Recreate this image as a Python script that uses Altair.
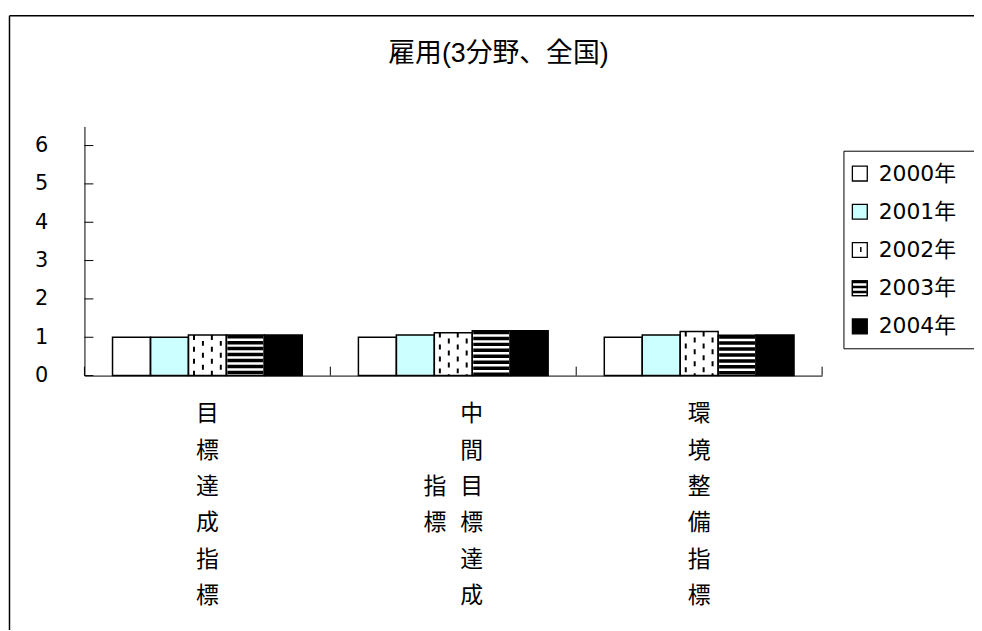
import altair as alt
import pandas as pd

# ---- data ----
title_text = "雇用(3分野、全国)"
categories = ["目標達成指標", "中間目標達成指標", "環境整備指標"]
years = ["2000年", "2001年", "2002年", "2003年", "2004年"]
v2000 = [1.00, 1.00, 1.00]
v2001 = [1.00, 1.06, 1.06]
v2002 = [1.06, 1.12, 1.15]
v2003 = [1.06, 1.17, 1.05]
v2004 = [1.06, 1.17, 1.06]
y_ticks = [0, 1, 2, 3, 4, 5, 6]
fill_colors = ["#FFFFFF", "#CCFFFF", "#FFFFFF", "#FFFFFF", "#000000"]

series = [v2000, v2001, v2002, v2003, v2004]
rows = []
for i, c in enumerate(categories):
    for j, y in enumerate(years):
        rows.append({"cat": c, "year": y, "value": series[j][i]})
df = pd.DataFrame(rows)

# ---- layout ----
W, H = 743, 251
PO = 0.74
band = W / len(categories)
step = band / (len(years) + 2 * PO)
JP = "Noto Sans CJK JP"
NUMF = "DejaVu Sans, Noto Sans CJK JP"
LH = 36.6

xscale = alt.Scale(domain=categories, paddingInner=0, paddingOuter=0)
xoscale = alt.Scale(domain=years, paddingInner=0, paddingOuter=PO)
yscale = alt.Scale(domain=[0, 6.5], nice=False, zero=True)

X = alt.X("cat:N", scale=xscale, sort=categories,
          axis=alt.Axis(labels=False, ticks=False, title=None, grid=False,
                        domainColor="black", domainWidth=1))
Y = alt.Y("value:Q", scale=yscale,
          axis=alt.Axis(values=y_ticks, ticks=False, title=None, grid=False,
                        labelPadding=37, labelFontSize=21, labelFont="DejaVu Sans",
                        labelColor="black", domainColor="black", domainWidth=1))
XO = alt.XOffset("year:N", scale=xoscale, sort=years)

one = alt.Data(values=[{"k": 1}])

layers = []

# bars (fill)
layers.append(
    alt.Chart(df).mark_bar(strokeWidth=0).encode(
        x=X, xOffset=XO, y=Y,
        fill=alt.Fill("year:N", scale=alt.Scale(domain=years, range=fill_colors), legend=None),
    )
)

# 2002 pattern: staggered vertical dashes (bar at band centre)
for k, off in enumerate([-13.5, -4.5, 4.5, 13.5]):
    layers.append(
        alt.Chart(df).transform_filter(alt.datum.year == years[2]).mark_rule(
            color="black", strokeWidth=2, xOffset=off,
            strokeDash=[5, 7], strokeDashOffset=(0 if k % 2 == 0 else 6)
        ).encode(x=X, y=Y, y2=alt.datum(0))
    )

# 2003 pattern: horizontal stripes
layers.append(
    alt.Chart(df).transform_filter(alt.datum.year == years[3]).mark_rule(
        color="black", strokeWidth=step - 2, strokeDash=[3.5, 2.5]
    ).encode(x=X, xOffset=XO, y=Y, y2=alt.datum(0))
)

# bar outlines
layers.append(
    alt.Chart(df).mark_bar(fillOpacity=0, stroke="black", strokeWidth=1.5).encode(
        x=X, xOffset=XO, y=Y
    )
)

# inward y ticks
layers.append(
    alt.Chart(pd.DataFrame({"value": y_ticks})).mark_rule(color="black", strokeWidth=1).encode(
        y=Y, x=alt.value(0), x2=alt.value(9)
    )
)

# inward x ticks at category boundaries
layers.append(
    alt.Chart(pd.DataFrame({"cat": categories})).mark_rule(color="black", strokeWidth=1).encode(
        x=alt.X("cat:N", scale=xscale, sort=categories, bandPosition=0,
                axis=alt.Axis(labels=False, ticks=False, title=None, grid=False,
                              domainColor="black", domainWidth=1)),
        y=alt.value(H - 9), y2=alt.value(H)
    )
)
layers.append(
    alt.Chart(one).mark_rule(color="black", strokeWidth=1).encode(
        x=alt.value(W), y=alt.value(H - 9), y2=alt.value(H)
    )
)

# vertical category labels (wrapped in columns of 6, right to left, vertically centred)
lab_rows = []
for c in categories:
    chars = list(c)
    cols = [chars[i:i + 6] for i in range(0, len(chars), 6)]
    n = len(cols)
    for k, col in enumerate(cols):
        lab_rows.append({"cat": c, "text": "\n".join(col), "col": k, "n": n, "L": len(col)})
lab_df = pd.DataFrame(lab_rows)
for (k, n, L), sub in lab_df.groupby(["col", "n", "L"]):
    dx = (n - 1) * 18.5 - k * 37
    dy = -(L - 1) * LH / 2
    layers.append(
        alt.Chart(sub).mark_text(
            dx=dx, dy=dy, lineBreak="\n", lineHeight=LH, baseline="middle", align="center",
            fontSize=23, font=JP, color="black"
        ).encode(x=X, y=alt.value(381.5), text="text:N")
    )

# title
layers.append(
    alt.Chart(one).mark_text(
        text=title_text, fontSize=27, font="Liberation Sans, Noto Sans CJK JP",
        align="center", baseline="middle", color="black"
    ).encode(x=alt.value(417), y=alt.value(-73))
)

# outer chart border (left and top edges visible)
layers.append(alt.Chart(one).mark_rule(color="black", strokeWidth=1.5).encode(
    x=alt.value(-75.5), y=alt.value(-111.5), y2=alt.value(520)))
layers.append(alt.Chart(one).mark_rule(color="black", strokeWidth=1.5).encode(
    x=alt.value(-75.5), x2=alt.value(W + 200), y=alt.value(-111.5)))

# legend box
LX, LT, LB = 765, 25, 224
layers.append(alt.Chart(one).mark_rule(color="black", strokeWidth=1).encode(
    x=alt.value(LX), y=alt.value(LT), y2=alt.value(LB)))
layers.append(alt.Chart(one).mark_rule(color="black", strokeWidth=1).encode(
    x=alt.value(LX), x2=alt.value(W + 200), y=alt.value(LT)))
layers.append(alt.Chart(one).mark_rule(color="black", strokeWidth=1).encode(
    x=alt.value(LX), x2=alt.value(W + 200), y=alt.value(LB)))

SX = 781
for i, (yr, col) in enumerate(zip(years, fill_colors)):
    cy = 47.5 + 38.5 * i
    layers.append(alt.Chart(one).mark_square(
        size=225, fill=col, stroke="black", strokeWidth=1.3, opacity=1
    ).encode(x=alt.value(SX), y=alt.value(cy)))
    if i == 2:
        layers.append(alt.Chart(one).mark_rule(color="black", strokeWidth=1.5).encode(
            x=alt.value(SX + 1), y=alt.value(cy - 3), y2=alt.value(cy + 2)))
    if i == 3:
        layers.append(alt.Chart(one).mark_rule(color="black", strokeWidth=14, strokeDash=[2.5, 2.5]).encode(
            x=alt.value(SX), y=alt.value(cy - 7.5), y2=alt.value(cy + 7.5)))
        layers.append(alt.Chart(one).mark_square(
            size=225, fillOpacity=0, stroke="black", strokeWidth=1.3
        ).encode(x=alt.value(SX), y=alt.value(cy)))
    layers.append(alt.Chart(one).mark_text(
        text=yr, fontSize=22, font=NUMF, align="left", baseline="middle", color="black"
    ).encode(x=alt.value(800), y=alt.value(cy)))

chart = alt.layer(*layers).properties(
    width=W, height=H,
    padding={"left": 77, "top": 117, "right": 153, "bottom": 254},
    autosize=alt.AutoSizeParams(type="none"),
).configure_view(stroke=None)

chart.save("out.html", embed_options={"renderer": "svg", "actions": False})
